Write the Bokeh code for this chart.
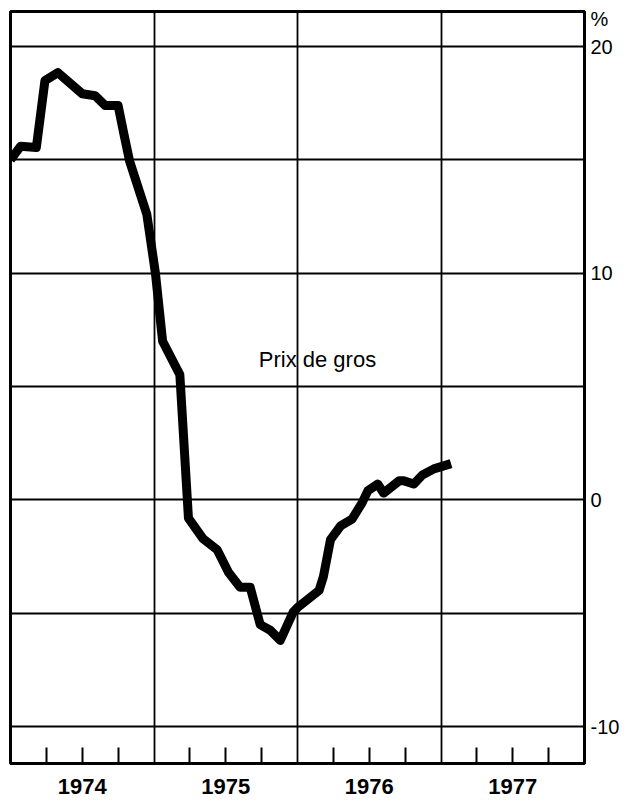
from bokeh.plotting import figure
from bokeh.models import Range1d, FixedTicker, CustomJSTickFormatter, ColumnDataSource
from bokeh.core.properties import value
from bokeh.embed import file_html
from bokeh.resources import INLINE

# Wholesale prices, year-over-year change (%)
dates = [1974.00, 1974.07, 1974.18, 1974.24, 1974.33, 1974.50, 1974.59, 1974.66,
         1974.75, 1974.79, 1974.83, 1974.95, 1975.01, 1975.06, 1975.18, 1975.24,
         1975.34, 1975.44, 1975.52, 1975.60, 1975.67, 1975.74, 1975.81, 1975.88,
         1975.97, 1976.00, 1976.15, 1976.18, 1976.23, 1976.30, 1976.38, 1976.45,
         1976.49, 1976.56, 1976.60, 1976.71, 1976.74, 1976.81, 1976.87, 1976.95,
         1977.07]
values = [15.0, 15.6, 15.55, 18.5, 18.85, 17.92, 17.83, 17.4,
          17.4, 16.15, 14.95, 12.6, 10.0, 7.0, 5.53, -0.8,
          -1.7, -2.2, -3.2, -3.85, -3.85, -5.5, -5.75, -6.2,
          -4.95, -4.75, -4.0, -3.4, -1.75, -1.15, -0.85, -0.13,
          0.4, 0.7, 0.3, 0.85, 0.85, 0.7, 1.1, 1.37,
          1.6]

year_ticks = [1974.5, 1975.5, 1976.5, 1977.5]
year_labels = ["1974", "1975", "1976", "1977"]
quarter_ticks = [1974.25, 1974.75, 1975.25, 1975.75, 1976.25, 1976.75, 1977.25, 1977.75]
year_lines = [1975, 1976, 1977]
pct_ticks = [-10, 0, 10, 20, 21.24]
pct_labels = ["-10", "0", "10", "20", "%"]
pct_grid = [-10, -5, 0, 5, 10, 15, 20]
series_name = "Prix de gros"
name_x = 1975.73
name_y = 6.21

FONT = "Liberation Sans"

FMT_CODE = """
const i = tvals.findIndex(t => Math.abs(t - tick) < 1e-6);
return i >= 0 ? tlabels[i] : "";
"""

p = figure(width=626, height=802, output_backend="svg", toolbar_location=None,
           x_range=Range1d(1974, 1978), y_range=Range1d(-11.63, 21.55),
           y_axis_location="right",
           min_border_left=10, min_border_right=42, min_border_top=11, min_border_bottom=39)
p.background_fill_color = "white"
p.border_fill_color = "white"
p.outline_line_color = "black"
p.outline_line_width = 3

# grid
p.xgrid.ticker = FixedTicker(ticks=year_lines)
p.ygrid.ticker = FixedTicker(ticks=pct_grid)
for g in (p.xgrid, p.ygrid):
    g.grid_line_color = "black"
    g.grid_line_width = 1.8

# bottom axis
xa = p.xaxis[0]
xa.ticker = FixedTicker(ticks=year_ticks, minor_ticks=quarter_ticks)
xa.formatter = CustomJSTickFormatter(args=dict(tvals=year_ticks, tlabels=year_labels), code=FMT_CODE)
xa.axis_line_color = None
xa.major_tick_in = 16
xa.major_tick_out = 0
xa.minor_tick_in = 16
xa.minor_tick_out = 0
xa.major_tick_line_width = 2
xa.minor_tick_line_width = 2
xa.major_tick_line_color = "black"
xa.minor_tick_line_color = "black"
xa.major_label_standoff = 15
xa.major_label_text_font = FONT
xa.major_label_text_font_size = "22px"
xa.major_label_text_font_style = "bold"
xa.major_label_text_color = "black"

# right axis
ya = p.yaxis[0]
ya.ticker = FixedTicker(ticks=pct_ticks)
ya.formatter = CustomJSTickFormatter(args=dict(tvals=pct_ticks, tlabels=pct_labels), code=FMT_CODE)
ya.axis_line_color = None
ya.major_tick_in = 0
ya.major_tick_out = 0
ya.minor_tick_line_color = None
ya.major_label_standoff = 6
ya.major_label_text_font = FONT
ya.major_label_text_font_size = "20px"
ya.major_label_text_color = "black"

src = ColumnDataSource(data=dict(x=dates, y=values))
p.line("x", "y", source=src, line_color="black", line_width=9, line_join="round", line_cap="butt")

p.text(x=[name_x], y=[name_y], text=[series_name], text_font=value(FONT),
       text_font_size="22px", text_color="black", text_align="left", text_baseline="alphabetic")

open("out.html", "w").write(file_html(p, INLINE))
